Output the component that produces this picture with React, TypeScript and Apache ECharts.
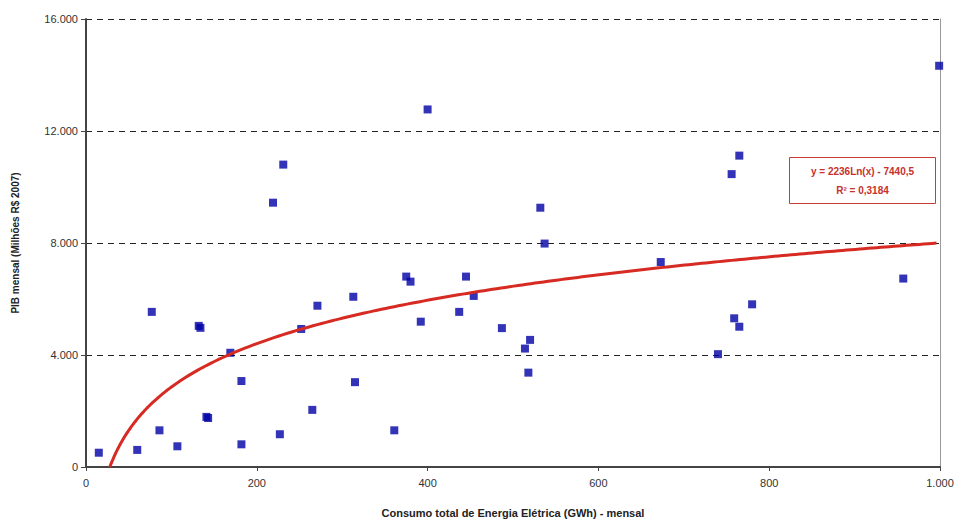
import React, { useEffect, useRef } from "react";
import * as echarts from "echarts";

const consumoGWh: number[] = [
  15, 60, 77, 86, 107, 132, 134, 141, 143, 169, 182, 182, 219, 231, 227, 252, 265, 271,
  313, 315, 361, 375, 380, 392, 400, 437, 445, 454, 487, 514, 520, 518, 532, 537,
  673, 740, 756, 759, 765, 765, 780, 957, 999,
];
const pibMensal: number[] = [
  510, 610, 5540, 1310, 740, 5040, 4970, 1790, 1750, 4080, 3070, 810, 9440, 10800, 1170, 4930, 2040, 5760,
  6080, 3030, 1310, 6800, 6620, 5190, 12770, 5540, 6800, 6110, 4960, 4230, 4540, 3370, 9260, 7980,
  7320, 4030, 10460, 5310, 5010, 11120, 5810, 6730, 14330,
];

// Trend line as printed on the chart: y = 2236 Ln(x) - 7440,5
const trendA = 2236;
const trendB = -7440.5;
const trendXStart = 27.9;
const trendXEnd = 1000;
const trendLabel1 = "y = 2236Ln(x) - 7440,5";
const trendLabel2 = "R² = 0,3184";

const xTicksMax = 1000;
const yTicksMax = 16000;

const fmt = (v: number) =>
  String(Math.round(v)).replace(/\B(?=(\d{3})+(?!\d))/g, ".");

export default function App() {
  const ref = useRef<HTMLDivElement>(null);
  useEffect(() => {
    if (!ref.current) return;
    const chart = echarts.init(ref.current, null, { renderer: "svg" });
    const scatterData = consumoGWh.map((x, i) => [x, pibMensal[i]]);
    const trend: number[][] = [];
    for (let x = trendXStart; x <= trendXEnd + 0.001; x += x < 100 ? 1 : 5) {
      trend.push([x, trendA * Math.log(x) + trendB]);
    }
    const font = "'Liberation Sans', Arial, sans-serif";
    chart.setOption({
      animation: false,
      backgroundColor: "#ffffff",
      grid: { left: 86, right: 18, top: 19, bottom: 52, outerBoundsMode: "none", containLabel: false },
      xAxis: {
        type: "value",
        min: 0,
        max: xTicksMax,
        interval: 200,
        name: "Consumo total de Energia Elétrica (GWh) - mensal",
        nameLocation: "middle",
        nameGap: 40,
        nameTextStyle: { fontFamily: font, fontSize: 11, fontWeight: "bold", color: "#222" },
        axisLine: { show: true, lineStyle: { color: "#444", width: 2 } },
        axisTick: { show: true, length: 4, lineStyle: { color: "#444" } },
        axisLabel: { formatter: fmt, fontFamily: font, fontSize: 11, color: "#333", margin: 10 },
        splitLine: { show: false },
      },
      yAxis: [
        {
          type: "value",
          min: 0,
          max: yTicksMax,
          interval: 4000,
          name: "PIB mensal (Milhões R$ 2007)",
          nameLocation: "middle",
          nameGap: 66,
          nameTextStyle: { fontFamily: font, fontSize: 10, fontWeight: "bold", color: "#222" },
          axisLine: { show: true, lineStyle: { color: "#444", width: 2 } },
          axisTick: { show: true, length: 5, lineStyle: { color: "#444" } },
          axisLabel: { formatter: fmt, fontFamily: font, fontSize: 11, color: "#333", margin: 8 },
          splitLine: { show: true, lineStyle: { color: "#222", type: [6, 5], width: 1 } },
        },
        {
          type: "value",
          min: 0,
          max: yTicksMax,
          interval: 4000,
          position: "right",
          axisLine: { show: true, lineStyle: { color: "#999", width: 1 } },
          axisTick: { show: false },
          axisLabel: { show: false },
          splitLine: { show: false },
        },
      ],
      series: [
        {
          type: "scatter",
          data: scatterData,
          symbol: "rect",
          symbolSize: 8,
          itemStyle: { color: "#0000a6" },
          z: 2,
        },
        {
          type: "line",
          data: trend,
          showSymbol: false,
          symbol: "none",
          lineStyle: { color: "#d62a22", width: 3 },
          z: 3,
        },
      ],
      graphic: [
        {
          type: "group",
          left: 789,
          top: 157,
          children: [
            {
              type: "rect",
              shape: { x: 0, y: 0, width: 146, height: 46 },
              style: { fill: "#fff", stroke: "#c83a34", lineWidth: 1 },
            },
            {
              type: "text",
              x: 73,
              y: 14,
              style: {
                text: trendLabel1,
                align: "center",
                verticalAlign: "middle",
                fill: "#c8302a",
                font: "bold 10px 'Liberation Sans', Arial, sans-serif",
              },
            },
            {
              type: "text",
              x: 73,
              y: 33,
              style: {
                text: trendLabel2,
                align: "center",
                verticalAlign: "middle",
                fill: "#c8302a",
                font: "bold 10px 'Liberation Sans', Arial, sans-serif",
              },
            },
          ],
        },
      ],
    });
    return () => chart.dispose();
  }, []);
  return (
    <div
      ref={ref}
      style={{ position: "fixed", left: 0, top: 0, width: 958, height: 519 }}
    />
  );
}
